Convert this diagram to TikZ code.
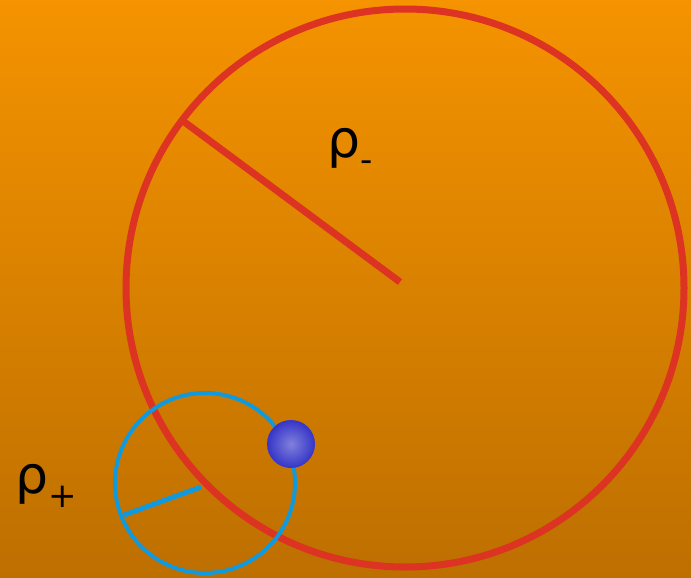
\documentclass[tikz,border=0pt]{standalone}
\usepackage{fontspec}
\setmainfont{DejaVu Sans}
\definecolor{bgtop}{HTML}{F59300}
\definecolor{bgbot}{HTML}{BD6F00}
\definecolor{ringred}{HTML}{DD3322}
\definecolor{ringblue}{HTML}{1199DD}
\definecolor{balldark}{HTML}{3535C8}
\definecolor{balllight}{HTML}{8080DC}
\newcommand{\lowsub}[1]{\raisebox{-0.28em}{\fontsize{34}{40}\selectfont #1}}
\tikzset{
  bigring/.style={draw=ringred, line width=7pt},
  smallring/.style={draw=ringblue, line width=4pt},
  rholabel/.style={font=\fontsize{52}{60}\selectfont, inner sep=0pt}
}
\begin{document}
\begin{tikzpicture}[x=1pt, y=-1pt]

% Fond
\shade[top color=bgtop, bottom color=bgbot] (0,0) rectangle (691,578);
\useasboundingbox (0,0) rectangle (691,578);

% Grand cercle
\coordinate (cbig) at (405,288);
\coordinate (rbig) at (183,121);
\draw[bigring] (cbig) circle (279);
\draw[ringred, line width=7pt] (400,282) -- (rbig);
\node[rholabel] (rhominus) at (350,150) {ρ\lowsub{-}};

% Petit cercle
\coordinate (csmall) at (205,483);
\coordinate (rsmall) at (124,515);
\draw[smallring] (csmall) circle (90);
\draw[ringblue, line width=5pt] (201,487) -- (rsmall);
\node[rholabel] (rhoplus) at (46,486) {ρ\lowsub{+}};

% Particule
\shade[inner color=balllight, outer color=balldark] (291,444) circle (24);

\end{tikzpicture}
\end{document}
